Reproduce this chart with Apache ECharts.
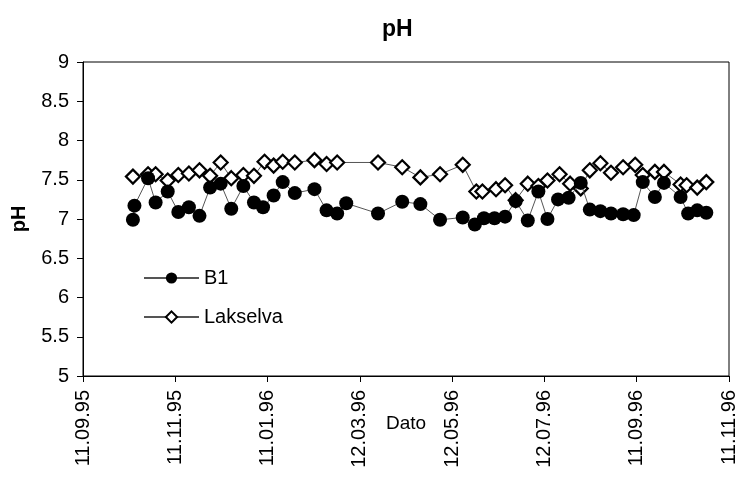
<!DOCTYPE html>
<html>
<head>
<meta charset="utf-8">
<script src="https://cdn.jsdelivr.net/npm/echarts@6/dist/echarts.min.js"></script>
<style>html,body{margin:0;padding:0;background:#fff}#c{width:739px;height:481px}</style>
</head>
<body>
<div id="c"></div>
<script>
// Days counted from the axis start date 11.09.95
var startDate = Date.UTC(1995, 8, 11);
var tickDays = [0, 61, 122, 183, 244, 305, 366, 427];

var b1Days = [33,34,43,48,56,63,70,77,84,91,98,106,113,119,126,132,140,153,161,168,174,195,211,223,236,251,259,265,272,279,286,294,301,307,314,321,329,335,342,349,357,364,370,378,384,395,400,406,412];
var b1Values = [6.99,7.17,7.52,7.21,7.35,7.09,7.15,7.04,7.40,7.45,7.13,7.42,7.21,7.15,7.30,7.47,7.33,7.38,7.11,7.07,7.20,7.07,7.22,7.19,6.99,7.02,6.93,7.01,7.01,7.03,7.23,6.98,7.35,7.00,7.25,7.27,7.46,7.12,7.10,7.07,7.06,7.05,7.47,7.28,7.46,7.28,7.07,7.11,7.08];

var lakDays = [33,43,48,56,63,70,77,84,91,98,106,113,120,126,132,140,153,161,168,195,211,223,236,251,260,264,273,279,286,294,301,307,315,322,329,335,342,349,357,365,370,378,384,395,399,406,412];
var lakValues = [7.54,7.57,7.57,7.49,7.56,7.58,7.62,7.55,7.72,7.52,7.56,7.55,7.73,7.68,7.73,7.72,7.75,7.70,7.72,7.72,7.66,7.53,7.57,7.69,7.35,7.35,7.38,7.43,7.24,7.45,7.42,7.49,7.57,7.45,7.39,7.62,7.71,7.59,7.66,7.69,7.56,7.60,7.60,7.44,7.43,7.40,7.47];

function pair(xs, ys){ return xs.map(function(x,i){ return [x, ys[i]]; }); }
function fmtDay(d){
  var t = new Date(startDate + d*86400000);
  var dd = ('0'+t.getUTCDate()).slice(-2), mm = ('0'+(t.getUTCMonth()+1)).slice(-2), yy = String(t.getUTCFullYear()).slice(-2);
  return dd+'.'+mm+'.'+yy;
}

var font = 'Liberation Sans, Arial, sans-serif';
var chart = echarts.init(document.getElementById('c'), null, {renderer:'canvas'});
chart.setOption({
  animation:false,
  backgroundColor:'#fff',
  textStyle:{fontFamily:font, color:'#000'},
  title:{text:'pH', left:377, top:13, textStyle:{fontFamily:font, fontSize:23, fontWeight:'bold', color:'#000'}},
  grid:{left:83, right:10, top:62, bottom:105, outerBoundsMode:'none', containLabel:false, show:true, borderColor:'#000', borderWidth:1, backgroundColor:'transparent'},
  legend:{
    orient:'vertical', left:138, top:263, itemWidth:55, itemHeight:14, itemGap:19,
    textStyle:{fontFamily:font, fontSize:20, color:'#000'},
    data:['B1','Lakselva']
  },
  xAxis:{
    type:'value', min:0, max:427, interval:61,
    name:'Dato', nameLocation:'middle', nameGap:38, nameMoveOverlap:false,
    nameTextStyle:{fontFamily:font, fontSize:19, color:'#000'},
    splitLine:{show:false},
    axisLine:{lineStyle:{color:'#000', width:1}},
    axisTick:{show:true, length:6, lineStyle:{color:'#000'}},
    axisLabel:{rotate:90, margin:14, fontFamily:font, fontSize:20, color:'#000', formatter:function(v){return fmtDay(v);}}
  },
  yAxis:{
    type:'value', min:5, max:9, interval:0.5,
    name:'pH', nameLocation:'middle', nameGap:54, nameRotate:90, nameMoveOverlap:false,
    nameTextStyle:{fontFamily:font, fontSize:20, fontWeight:'bold', color:'#000'},
    splitLine:{show:false},
    axisLine:{show:true, lineStyle:{color:'#000', width:1}},
    axisTick:{show:true, length:6, lineStyle:{color:'#000'}},
    axisLabel:{margin:14, fontFamily:font, fontSize:20, color:'#000'}
  },
  series:[
    {name:'Lakselva', type:'line', data:pair(lakDays, lakValues), symbol:'diamond', symbolSize:14,
     lineStyle:{color:'#555', width:1}, itemStyle:{color:'#fff', borderColor:'#000', borderWidth:2.2}, z:2},
    {name:'B1', type:'line', data:pair(b1Days, b1Values), symbol:'circle', symbolSize:14,
     lineStyle:{color:'#555', width:1}, itemStyle:{color:'#000', borderColor:'#000', borderWidth:0}, z:3}
  ]
});
</script>
</body>
</html>
